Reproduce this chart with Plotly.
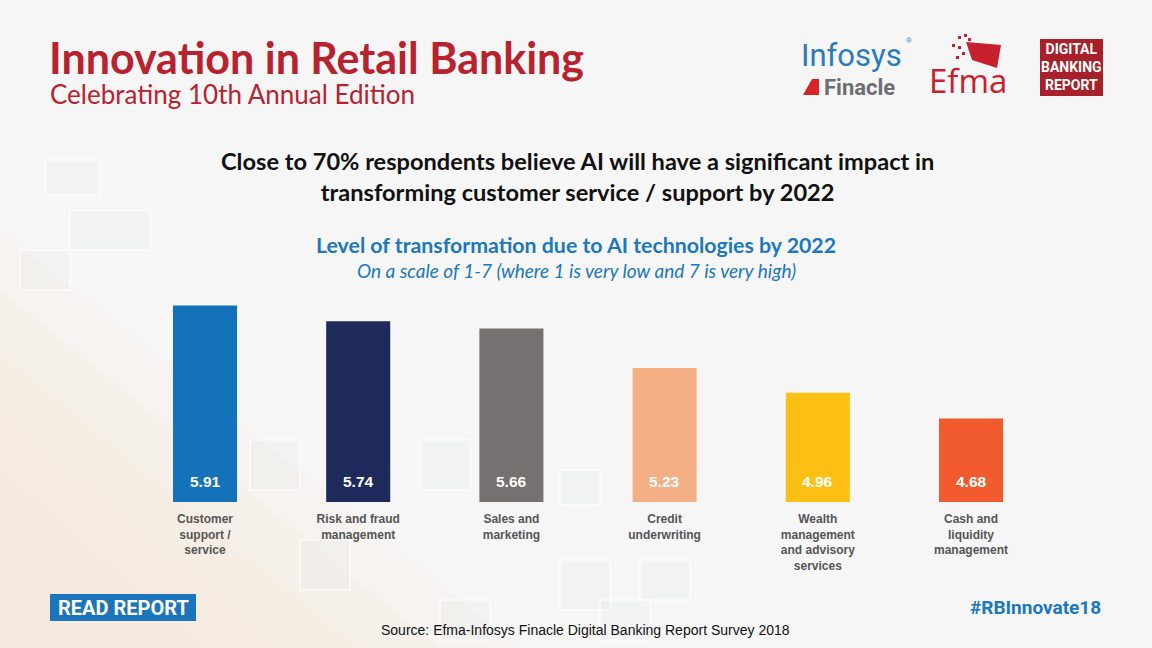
import plotly.graph_objects as go

categories = ["Customer<br>support /<br>service", "Risk and fraud<br>management",
              "Sales and<br>marketing", "Credit<br>underwriting",
              "Wealth<br>management<br>and advisory<br>services",
              "Cash and<br>liquidity<br>management"]
values = [5.91, 5.74, 5.66, 5.23, 4.96, 4.68]
value_labels = ["5.91", "5.74", "5.66", "5.23", "4.96", "4.68"]
colors = ["#1372BA", "#1F2A5C", "#757170", "#F5AF85", "#FDBF14", "#F05A2C"]

W, H = 1152, 648
def px(x): return x / W
def py(y): return 1 - y / H

y0 = 3.77
y1 = y0 + (502 - 290) / 91.8

fig = go.Figure()
fig.add_trace(go.Bar(
    x=list(range(len(values))), y=[v - y0 for v in values], base=y0,
    marker=dict(color=colors, line=dict(width=0)),
    width=0.418, hoverinfo="skip",
))

ann = []
for i, t in enumerate(value_labels):
    ann.append(dict(x=i, y=0, xref="x", yref="y domain", yanchor="middle", yshift=21,
                    text="<b>%s</b>" % t, showarrow=False,
                    font=dict(family="Liberation Sans, Arial", size=15.5, color="white")))

RED = "#B8222E"
BLUE = "#1B78C0"
ann += [
    dict(x=px(47), y=py(57), xref="paper", yref="paper", xanchor="left", yanchor="middle",
         text="<b>Innovation in Retail Banking</b>", showarrow=False, align="left",
         font=dict(family="Lato", size=43, color=RED)),
    dict(x=px(48), y=py(94), xref="paper", yref="paper", xanchor="left", yanchor="middle",
         text="Celebrating 10th Annual Edition", showarrow=False, align="left",
         font=dict(family="Lato", size=26, color=RED)),
    dict(x=px(577), y=py(176), xref="paper", yref="paper", xanchor="center", yanchor="middle",
         text="Close to 70% respondents believe AI will have a significant impact in<br>transforming customer service / support by 2022",
         showarrow=False, font=dict(family="Lato", size=23.6, color="#111111", weight=700)),
    dict(x=px(576), y=py(245), xref="paper", yref="paper", xanchor="center", yanchor="middle",
         text="Level of transformation due to AI technologies by 2022", showarrow=False,
         font=dict(family="Lato", size=21.3, color=BLUE, weight=700)),
    dict(x=px(576), y=py(270), xref="paper", yref="paper", xanchor="center", yanchor="middle",
         text="<i>On a scale of 1-7 (where 1 is very low and 7 is very high)</i>", showarrow=False,
         font=dict(family="Lato", size=19, color=BLUE)),
    # logos
    dict(x=px(799), y=py(56), xref="paper", yref="paper", xanchor="left", yanchor="middle",
         text="Infosys", showarrow=False,
         font=dict(family="Roboto", size=31, color="#2A7BC0")),
    dict(x=px(904), y=py(40), xref="paper", yref="paper", xanchor="left", yanchor="middle",
         text="®", showarrow=False, font=dict(family="Liberation Sans", size=8, color="#2A7BC0")),
    dict(x=px(822), y=py(87), xref="paper", yref="paper", xanchor="left", yanchor="middle",
         text="<b>Finacle</b>", showarrow=False,
         font=dict(family="Roboto", size=22, color="#6D6E71")),
    dict(x=px(927), y=py(80), xref="paper", yref="paper", xanchor="left", yanchor="middle",
         text="Efma", showarrow=False,
         font=dict(family="Open Sans", size=33, color="#C8202F")),
    dict(x=px(1071), y=py(67), xref="paper", yref="paper", xanchor="center", yanchor="middle",
         text="<b>DIGITAL<br>BANKING<br>REPORT</b>", showarrow=False,
         font=dict(family="Roboto", size=14, color="white")),
    # footer
    dict(x=px(123), y=py(608), xref="paper", yref="paper", xanchor="center", yanchor="middle",
         text="<b>READ REPORT</b>", showarrow=False,
         font=dict(family="Roboto", size=20, color="white")),
    dict(x=px(1103), y=py(607), xref="paper", yref="paper", xanchor="right", yanchor="middle",
         text="<b>#RBInnovate18</b>", showarrow=False,
         font=dict(family="Roboto", size=19, color=BLUE)),
    dict(x=px(585), y=py(630), xref="paper", yref="paper", xanchor="center", yanchor="middle",
         text="Source: Efma-Infosys Finacle Digital Banking Report Survey 2018", showarrow=False,
         font=dict(family="Liberation Sans, Arial", size=14, color="#111111")),
]

shapes = []
# peach tint lower left (layered to fake a soft gradient)
for (ex, ey) in [(520, 230), (440, 290), (360, 350), (280, 410), (200, 470)]:
    shapes.append(dict(type="path", xref="paper", yref="paper",
                       path="M 0 0 L %f 0 L 0 %f Z" % (px(ex), py(ey)),
                       fillcolor="rgba(248,222,200,0.12)", line=dict(width=0), layer="below"))
# faint background squares
bg_rects = [(45, 160, 100, 195), (70, 210, 150, 250), (20, 250, 70, 290),
            (250, 440, 300, 490), (420, 440, 470, 490), (560, 470, 600, 505),
            (560, 560, 610, 610), (640, 560, 690, 600), (600, 600, 650, 640),
            (300, 540, 350, 590), (440, 600, 490, 640)]
for (a, b, c, d) in bg_rects:
    shapes.append(dict(type="rect", xref="paper", yref="paper", x0=px(a), x1=px(c), y0=py(d), y1=py(b),
                       fillcolor="rgba(205,212,220,0.10)", line=dict(color="rgba(255,255,255,0.7)", width=1.5),
                       layer="below"))
# Infosys Finacle red mark
shapes.append(dict(type="path", xref="paper", yref="paper",
                   path="M %f %f L %f %f L %f %f L %f %f Z" % (px(803), py(95), px(812), py(79), px(819), py(79), px(819), py(95)),
                   fillcolor="#D8232A", line=dict(width=0)))
# Efma red shape
shapes.append(dict(type="path", xref="paper", yref="paper",
                   path="M %f %f L %f %f L %f %f L %f %f Z" % (px(966), py(42), px(1001), py(45), px(997), py(68), px(972), py(60)),
                   fillcolor="#C8202F", line=dict(width=0)))
for (dx, dy) in [(958, 36), (964, 34), (952, 44), (958, 46), (962, 52), (956, 56), (968, 38)]:
    shapes.append(dict(type="rect", xref="paper", yref="paper", x0=px(dx), x1=px(dx + 3),
                       y0=py(dy + 3), y1=py(dy), fillcolor="#C8202F", line=dict(width=0)))
# DBR box
shapes.append(dict(type="rect", xref="paper", yref="paper", x0=px(1040), x1=px(1103), y0=py(96), y1=py(39),
                   fillcolor="#A8202A", line=dict(width=0)))
# read report box
shapes.append(dict(type="rect", xref="paper", yref="paper", x0=px(50), x1=px(196), y0=py(621), y1=py(594),
                   fillcolor="#1A75BC", line=dict(width=0)))

fig.update_layout(
    width=W, height=H, margin=dict(l=0, r=0, t=0, b=0),
    paper_bgcolor="#F6F6F6", plot_bgcolor="rgba(0,0,0,0)",
    showlegend=False, annotations=ann, shapes=shapes,
    xaxis=dict(domain=[px(128.4), px(1047.6)], range=[-0.5, 5.5],
               tickmode="array", tickvals=list(range(len(categories))), ticktext=categories,
               showgrid=False, zeroline=False, showline=False, ticks="",
               ticklabelstandoff=8,
               tickfont=dict(family="Liberation Sans, Arial", size=12, color="#555555", weight=700),
               fixedrange=True),
    yaxis=dict(domain=[py(502), py(290)], range=[y0, y1], visible=False, fixedrange=True),
)

fig.write_html("out.html", config={"displayModeBar": False},
               post_script="document.body.style.margin='0';")
